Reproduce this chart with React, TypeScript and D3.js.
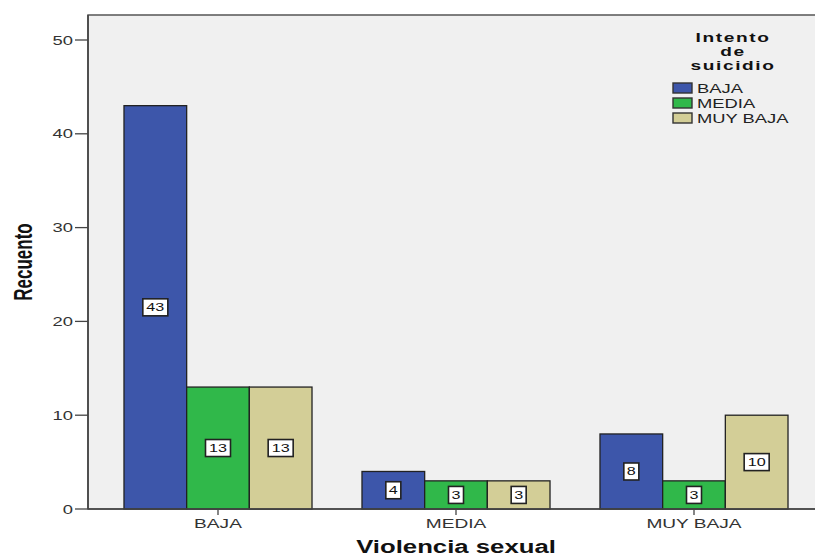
import React from "react";
import * as d3 from "d3";

const categories = ["BAJA", "MEDIA", "MUY BAJA"];
const seriesNames = ["BAJA", "MEDIA", "MUY BAJA"];
const seriesColors = ["#3d56aa", "#30b84a", "#d3ce97"];
const valuesBaja = [43, 4, 8];
const valuesMedia = [13, 3, 3];
const valuesMuyBaja = [13, 3, 10];
const yTicks = [0, 10, 20, 30, 40, 50];
const legendTitle = ["Intento", "de", "suicidio"];

const W = 815;
const H = 558;
const SX = 1.47; // horizontal stretch of the reference rendering
const font = "Arial, 'Liberation Sans', sans-serif";

type TProps = {
  x: number;
  y: number;
  anchor?: "start" | "middle" | "end";
  size: number;
  weight?: string;
  fill?: string;
  children: React.ReactNode;
  ls?: number;
};

function SText({ x, y, anchor = "start", size, weight = "normal", fill = "#222", children, ls = 0 }: TProps) {
  return (
    <text
      transform={`translate(${x},${y}) scale(${SX},1)`}
      textAnchor={anchor}
      fontFamily={font}
      fontSize={size}
      fontWeight={weight}
      letterSpacing={ls}
      fill={fill}
    >
      {children}
    </text>
  );
}

export default function App() {
  const series = [valuesBaja, valuesMedia, valuesMuyBaja];
  const plotLeft = 88;
  const plotTop = 15;
  const plotBottom = 509;
  const plotRight = 816;

  const y = d3.scaleLinear().domain([0, 50]).range([plotBottom, 40]);
  const x = d3
    .scaleBand<string>()
    .domain(categories)
    .range([99, 813])
    .paddingInner(0.21)
    .paddingOuter(0.105);
  const xs = d3
    .scaleBand<string>()
    .domain(seriesNames)
    .range([0, x.bandwidth()]);

  return (
    <svg
      width={W}
      height={H}
      style={{ position: "absolute", left: 0, top: 0, background: "#fff" }}
    >
      <rect
        x={plotLeft}
        y={plotTop}
        width={plotRight - plotLeft}
        height={plotBottom - plotTop}
        fill="#f0f0f0"
        stroke="#555"
        strokeWidth={1.5}
      />
      {categories.map((c, ci) =>
        series.map((vals, si) => {
          const v = vals[ci];
          const bx = (x(c) as number) + (xs(seriesNames[si]) as number);
          const bw = xs.bandwidth();
          const by = y(v);
          const bh = plotBottom - by;
          const cx = bx + bw / 2;
          const cy = y(v / 2);
          const label = String(v);
          const boxW = label.length > 1 ? 25 : 15;
          return (
            <g key={`${ci}-${si}`}>
              <rect
                x={bx}
                y={by}
                width={bw}
                height={bh}
                fill={seriesColors[si]}
                stroke="#222"
                strokeWidth={1.3}
              />
              <rect
                x={cx - boxW / 2}
                y={cy - 8.5}
                width={boxW}
                height={17}
                fill="#fff"
                stroke="#222"
                strokeWidth={1.6}
              />
              <SText x={cx} y={cy + 4} anchor="middle" size={11} fill="#111">
                {label}
              </SText>
            </g>
          );
        })
      )}
      {/* axes */}
      <line x1={plotLeft} x2={plotRight} y1={plotBottom} y2={plotBottom} stroke="#444" strokeWidth={1.6} />
      <line x1={plotLeft} x2={plotLeft} y1={plotTop} y2={plotBottom} stroke="#444" strokeWidth={1.6} />
      {yTicks.map((t) => (
        <g key={t}>
          <line x1={plotLeft - 13} x2={plotLeft} y1={y(t)} y2={y(t)} stroke="#444" strokeWidth={1.3} />
          <SText x={plotLeft - 15} y={y(t) + 4.5} anchor="end" size={12.5} fill="#333">
            {t}
          </SText>
        </g>
      ))}
      {categories.map((c) => {
        const cx = (x(c) as number) + x.bandwidth() / 2;
        return (
          <g key={c}>
            <line x1={cx} x2={cx} y1={plotBottom} y2={plotBottom + 6} stroke="#444" strokeWidth={1.3} />
            <SText x={cx} y={528} anchor="middle" size={13} fill="#333">
              {c}
            </SText>
          </g>
        );
      })}
      <SText x={(x("MEDIA") as number) + x.bandwidth() / 2} y={553} anchor="middle" size={17.5} weight="bold" fill="#111">
        Violencia sexual
      </SText>
      <text
        transform={`translate(32,262) scale(1.5,1) rotate(-90)`}
        textAnchor="middle"
        fontFamily={font}
        fontSize={17}
        fontWeight="bold"
        fill="#111"
      >
        Recuento
      </text>
      {/* legend */}
      {legendTitle.map((t, i) => (
        <SText key={t} x={733} y={42 + i * 14} anchor="middle" size={13} weight="bold" ls={1.1} fill="#111">
          {t}
        </SText>
      ))}
      {seriesNames.map((s, i) => (
        <g key={s}>
          <rect
            x={673}
            y={83 + i * 15}
            width={19}
            height={10}
            fill={seriesColors[i]}
            stroke="#333"
            strokeWidth={1.4}
          />
          <SText x={697} y={93 + i * 15} size={12.5} fill="#222">
            {s}
          </SText>
        </g>
      ))}
    </svg>
  );
}
